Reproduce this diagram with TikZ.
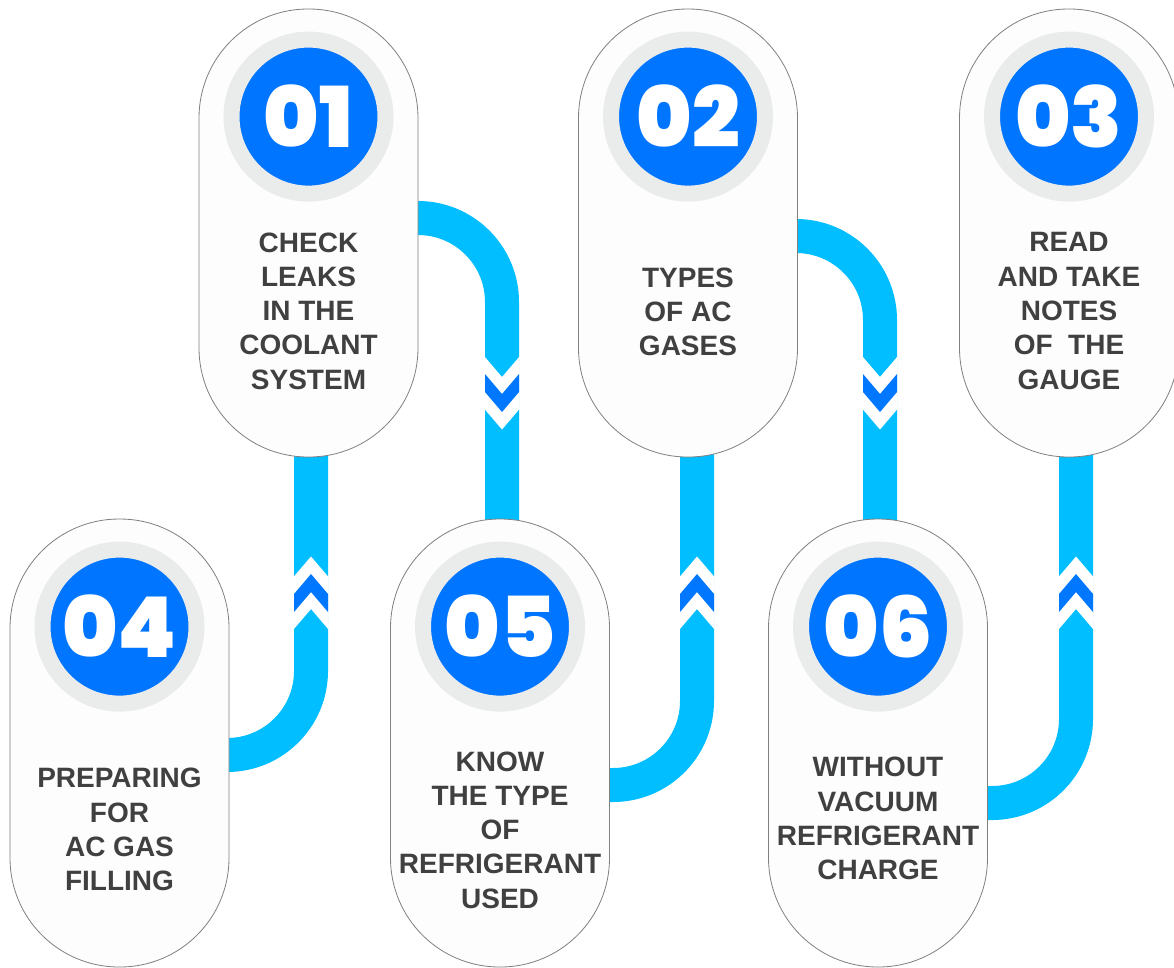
\documentclass[tikz,border=0pt]{standalone}
\usepackage{fontspec}
\setmainfont{Liberation Sans}
\newfontfamily\numfont{Poppins Black}
\usetikzlibrary{calc}
\pgfdeclarelayer{background}
\pgfsetlayers{background,main}
\definecolor{bandblue}{RGB}{0,190,255}
\definecolor{chevblue}{RGB}{0,119,255}
\definecolor{numblue}{RGB}{0,117,255}
\definecolor{ringgray}{RGB}{234,235,235}
\definecolor{capfill}{RGB}{253,253,253}
\definecolor{textgray}{RGB}{64,64,64}
\tikzset{
  capsule/.style={rectangle,draw=black!50,line width=0.8pt,fill=capfill,
    rounded corners=109pt,minimum width=219pt,minimum height=448pt,inner sep=0pt},
  numdisk/.style={circle,fill=numblue,draw=ringgray,line width=16pt,
    minimum size=154pt,inner sep=0pt,text=white,font=\numfont\fontsize{84}{84}\selectfont},
  steptext/.style={align=center,inner sep=0pt,text=textgray,
    font=\bfseries\fontsize{28}{34.3}\selectfont},
  band/.style={bandblue,line width=34pt,rounded corners=84pt},
  pics/chevron/.style={code={
    \fill[white] (-17.5,-36.5) -- (0,-16) -- (17.5,-36.5) -- (17.5,16) -- (0,36.5) -- (-17.5,16) -- cycle;
    \fill[chevblue] (-17,-19) -- (0,1) -- (17,-19) -- (17,-1) -- (0,19) -- (-17,-1) -- cycle;
  }}
}
\begin{document}
\begin{tikzpicture}[x=1pt,y=-1pt]
  \useasboundingbox (0,0) rectangle (1174,967);
  \node[capsule] (cap1) at (308.5,233) {};
  \node[capsule] (cap2) at (688,233) {};
  \node[capsule] (cap3) at (1069,233) {};
  \node[capsule] (cap4) at (119.5,743) {};
  \node[capsule] (cap5) at (500,743) {};
  \node[capsule] (cap6) at (878,743) {};
  \node[numdisk] (num1) at ([yshift=-108pt]cap1.north) {01};
  \node[numdisk] (num2) at ([yshift=-108pt]cap2.north) {02};
  \node[numdisk] (num3) at ([yshift=-108pt]cap3.north) {03};
  \node[numdisk] (num4) at ([yshift=-108pt]cap4.north) {04};
  \node[numdisk] (num5) at ([yshift=-108pt]cap5.north) {05};
  \node[numdisk] (num6) at ([yshift=-108pt]cap6.north) {06};
  \node[steptext] (txt1) at ([yshift=-78pt]cap1.center) {CHECK\\LEAKS\\IN THE\\COOLANT\\SYSTEM};
  \node[steptext] (txt2) at ([yshift=-79pt]cap2.center) {TYPES\\OF AC\\GASES};
  \node[steptext] (txt3) at ([yshift=-78pt]cap3.center) {READ\\AND TAKE\\NOTES\\OF\ \ THE\\GAUGE};
  \node[steptext] (txt4) at ([yshift=-86.5pt]cap4.center) {PREPARING\\FOR\\AC GAS\\FILLING};
  \node[steptext] (txt5) at ([yshift=-87pt]cap5.center) {KNOW\\THE TYPE\\OF\\REFRIGERANT\\USED};
  \node[steptext] (txt6) at ([yshift=-75.5pt]cap6.center) {WITHOUT\\VACUUM\\REFRIGERANT\\CHARGE};
  \coordinate (bendA) at (502,218);
  \coordinate (bendB) at (311,755);
  \coordinate (bendC) at (880,236);
  \coordinate (bendD) at (697,785);
  \coordinate (bendE) at (1076,803);
  \coordinate (chevtop) at (0,393);
  \coordinate (chevbot) at (0,593);
  \begin{pgfonlayer}{background}
    \fill[white] (0,0) rectangle (1174,967);
    \draw[band] (cap1.center |- bendA) -- (bendA) -- (bendA |- cap5.center);
    \draw[band] (cap4.center |- bendB) -- (bendB) -- (bendB |- cap1.center);
    \draw[band] (cap2.center |- bendC) -- (bendC) -- (bendC |- cap6.center);
    \draw[band] (cap5.center |- bendD) -- (bendD) -- (bendD |- cap2.center);
    \draw[band] (cap6.center |- bendE) -- (bendE) -- (bendE |- cap3.center);
  \end{pgfonlayer}
  \pic at (bendA |- chevtop) {chevron};
  \pic at (bendC |- chevtop) {chevron};
  \pic[yscale=-1] at (bendB |- chevbot) {chevron};
  \pic[yscale=-1] at (bendD |- chevbot) {chevron};
  \pic[yscale=-1] at (bendE |- chevbot) {chevron};
\end{tikzpicture}
\end{document}
